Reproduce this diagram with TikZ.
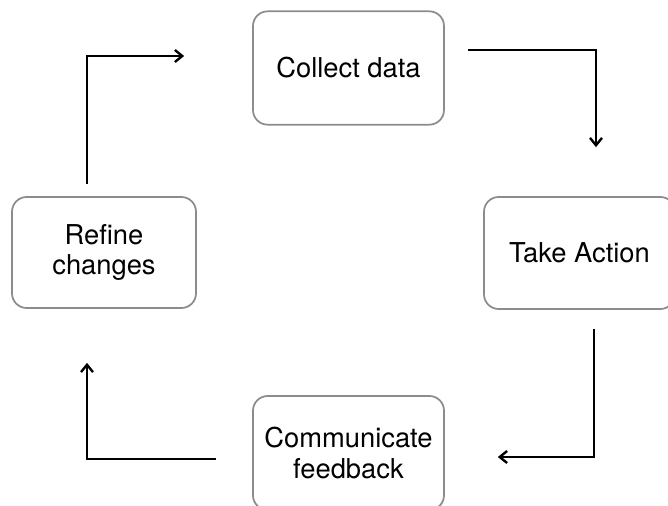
\documentclass[tikz,border=0pt]{standalone}
\usepackage{fontspec}
\setmainfont{TeX Gyre Heros}
\usepackage{xcolor}
\usetikzlibrary{arrows.meta, positioning, calc}
\definecolor{boxgray}{RGB}{140,140,140}

\begin{document}
\begin{tikzpicture}[x=0.75pt,y=-0.75pt,
  stage/.style={draw=boxgray,line width=1.3pt,rounded corners=11pt,align=center,
    inner sep=0pt,minimum width=143.25pt,minimum height=85pt,
    font=\fontsize{20.5pt}{23pt}\selectfont},
  arrow/.style={-{Straight Barb[length=5.5pt,width=9pt]},line width=1.8pt}]
  \clip (0,0) rectangle (668,506);
  \node[stage] (collect) at (348.5,68) {Collect data};
  \node[stage,minimum height=84pt] (action) at (579.5,253) {Take Action};
  \node[stage,minimum height=85.5pt] (comm) at (348.5,453) {Communicate\\feedback};
  \node[stage,minimum width=138pt,minimum height=83.25pt] (refine) at (104,252.5) {Refine\\changes};
  \draw[arrow] ($(collect.east)+(23,-18)$) -| ($(action.north)+(16.5,-49)$);
  \draw[arrow] ($(action.south)+(14.5,19)$) |- ($(comm.east)+(53,4)$);
  \draw[arrow] ($(comm.west)+(-36,6)$) -| ($(refine.south)+(-17,54)$);
  \draw[arrow] ($(refine.north)+(-17,-12)$) |- ($(collect.west)+(-68,-12)$);
\end{tikzpicture}
\end{document}
